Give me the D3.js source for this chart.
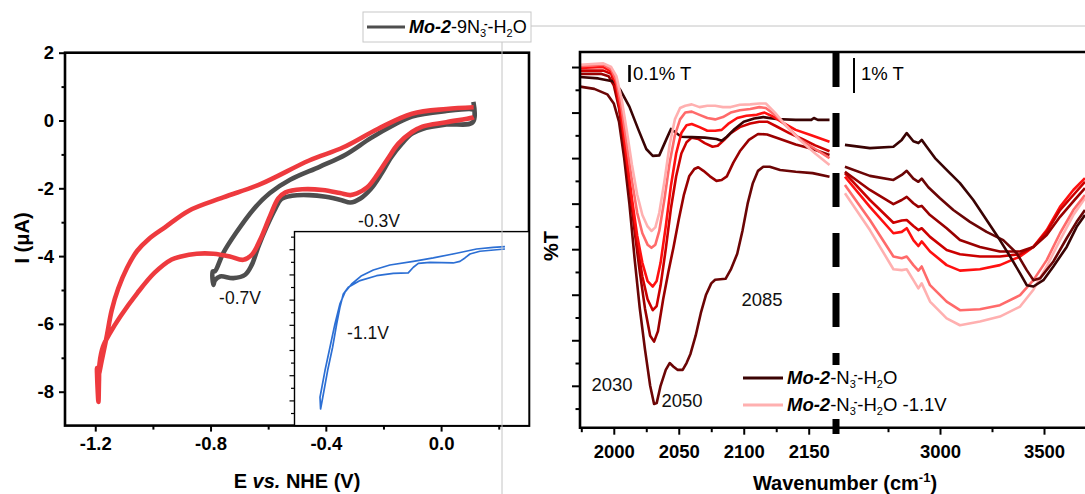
<!DOCTYPE html>
<html><head><meta charset="utf-8">
<script src="https://cdn.jsdelivr.net/npm/d3@7"></script>
<style>body{margin:0;background:#fff}svg{display:block}text{font-family:"Liberation Sans",Arial,sans-serif}</style>
</head><body><svg id="c" width="1085" height="494"></svg>
<script>
// ---------- DATA ----------
// Cyclic voltammograms: [E (V vs NHE), I (uA)]
const cvGrey = [[0.112,0.55],[0.110,-0.05],[0.018,-0.12],[-0.065,-0.25],[-0.101,-0.39],[-0.137,-0.69],[-0.173,-1.08],[-0.208,-1.58],[-0.244,-2.02],[-0.280,-2.30],[-0.315,-2.42],[-0.345,-2.35],[-0.400,-2.25],[-0.458,-2.20],[-0.518,-2.22],[-0.555,-2.32],[-0.575,-2.60],[-0.605,-3.13],[-0.634,-3.72],[-0.657,-4.26],[-0.680,-4.55],[-0.721,-4.65],[-0.767,-4.60],[-0.785,-4.72],[-0.790,-4.85],[-0.792,-4.45],[-0.785,-4.45],[-0.756,-3.91],[-0.712,-3.32],[-0.652,-2.63],[-0.594,-2.14],[-0.524,-1.75],[-0.420,-1.36],[-0.330,-1.00],[-0.244,-0.52],[-0.161,-0.12],[-0.101,0.12],[0.018,0.28],[0.107,0.33],[0.112,0.30]];
const cvRed = [[0.113,0.10],[0.107,0.08],[0.018,-0.05],[-0.065,-0.18],[-0.101,-0.34],[-0.149,-0.69],[-0.185,-1.13],[-0.220,-1.58],[-0.256,-1.97],[-0.292,-2.15],[-0.315,-2.20],[-0.351,-2.14],[-0.411,-2.05],[-0.482,-2.03],[-0.540,-2.12],[-0.565,-2.30],[-0.594,-2.83],[-0.628,-3.52],[-0.657,-3.96],[-0.686,-4.11],[-0.733,-4.01],[-0.790,-3.93],[-0.848,-3.93],[-0.906,-4.02],[-0.935,-4.10],[-0.994,-4.49],[-1.054,-5.09],[-1.113,-5.78],[-1.149,-6.27],[-1.173,-6.67],[-1.185,-7.16],[-1.187,-7.65],[-1.189,-8.30],[-1.194,-7.30],[-1.190,-7.55],[-1.178,-7.10],[-1.161,-6.40],[-1.143,-5.60],[-1.120,-4.95],[-1.090,-4.35],[-1.055,-3.85],[-1.015,-3.50],[-0.958,-3.15],[-0.875,-2.66],[-0.756,-2.27],[-0.625,-1.87],[-0.458,-1.18],[-0.339,-0.79],[-0.220,-0.25],[-0.101,0.20],[0.018,0.34],[0.113,0.39]];
// Inset CV (-1.1 V)
const insetBlue = [[0.136,0.02],[-0.035,-0.16],[-0.103,-0.38],[-0.137,-0.69],[-0.171,-0.96],[-0.217,-1.09],[-0.376,-1.04],[-0.455,-1.12],[-0.489,-1.43],[-0.524,-1.88],[-0.626,-1.91],[-0.740,-2.10],[-0.853,-2.49],[-0.933,-3.02],[-0.967,-3.55],[-0.990,-4.61],[-1.012,-5.93],[-1.040,-7.78],[-1.074,-9.63],[-1.103,-11.49],[-1.122,-12.68],[-1.126,-11.75],[-1.092,-9.63],[-1.058,-7.78],[-1.024,-5.93],[-0.990,-4.34],[-0.956,-3.42],[-0.910,-2.76],[-0.842,-2.10],[-0.762,-1.65],[-0.649,-1.25],[-0.489,-0.96],[-0.353,-0.69],[-0.194,-0.32],[-0.058,0.02],[0.056,0.15],[0.136,0.21]];
const cvTicksX = [-1.2,-0.8,-0.4,0.0];
const cvMinorX = [-1.0,-0.6,-0.2,0.2];
const cvTicksY = [-8,-6,-4,-2,0,2];
const cvMinorY = [-7,-5,-3,-1,1];
const insetTicksY = [-13,-12,-11,-10,-9,-8,-7,-6,-5,-4,-3,-2,-1,0,1];

// IR spectra: [wavenumber (cm-1), %T offset units]
const irL1 = [[1974,7.78],[1988,7.75],[2000,7.68],[2005,7.5],[2012,7.13],[2019,6.62],[2025,6.2],[2030,6.05],[2035,6.06],[2041,6.45],[2044,6.64],[2048,6.55],[2052,6.47],[2060,6.46],[2070,6.45],[2079,6.42],[2083,6.38],[2087,6.47],[2093,6.64],[2100,6.8],[2108,6.87],[2115,6.9],[2125,6.86],[2140,6.84],[2152,6.84],[2154,6.88],[2157,6.84],[2166,6.84]];
const irL2 = [[1974,7.57],[1985,7.52],[1995,7.4],[2000,7.2],[2004,6.8],[2008,6.0],[2012,5.0],[2016,3.8],[2020,2.7],[2024,1.8],[2028,1.0],[2031,0.6],[2033,0.62],[2036,1.0],[2040,1.35],[2043,1.5],[2046,1.42],[2049,1.35],[2053,1.35],[2056,1.5],[2059,1.7],[2063,2.1],[2067,2.6],[2071,3.0],[2075,3.25],[2078,3.33],[2086,3.35],[2090,3.55],[2095,3.9],[2099,4.4],[2103,5.0],[2107,5.45],[2111,5.72],[2115,5.81],[2120,5.81],[2128,5.74],[2140,5.7],[2153,5.67],[2166,5.59]];
const irL3 = [[1974,7.85],[1990,7.85],[1996,7.8],[2000,7.6],[2004,7.1],[2008,6.3],[2012,5.4],[2016,4.4],[2020,3.5],[2024,2.7],[2028,2.1],[2031,1.97],[2034,2.2],[2038,2.9],[2042,3.5],[2046,4.05],[2050,4.65],[2054,5.2],[2058,5.6],[2062,5.76],[2065,5.8],[2069,5.72],[2074,5.6],[2079,5.5],[2083,5.52],[2087,5.6],[2092,5.9],[2097,6.15],[2104,6.4],[2111,6.53],[2118,6.52],[2128,6.42],[2140,6.3],[2153,6.2],[2166,6.07]];
const irL4 = [[1974,7.92],[1992,7.92],[1998,7.85],[2002,7.5],[2006,6.8],[2010,5.9],[2014,5.0],[2018,4.1],[2022,3.4],[2026,2.9],[2030,2.66],[2033,2.75],[2036,3.2],[2040,4.0],[2044,4.9],[2048,5.6],[2052,6.1],[2056,6.35],[2060,6.45],[2065,6.42],[2070,6.33],[2076,6.25],[2080,6.27],[2085,6.4],[2090,6.55],[2097,6.68],[2105,6.76],[2112,6.8],[2118,6.8],[2125,6.7],[2135,6.55],[2145,6.42],[2155,6.28],[2166,6.15]];
const irL5 = [[1974,7.98],[1992,8.0],[1998,7.9],[2002,7.6],[2006,6.9],[2010,6.0],[2014,5.1],[2018,4.3],[2022,3.7],[2026,3.3],[2030,3.18],[2033,3.3],[2036,3.7],[2040,4.5],[2044,5.4],[2048,6.1],[2052,6.55],[2056,6.72],[2060,6.75],[2066,6.68],[2072,6.6],[2078,6.6],[2083,6.62],[2088,6.75],[2095,6.88],[2102,6.93],[2110,6.95],[2116,7.0],[2122,6.92],[2130,6.78],[2140,6.62],[2152,6.5],[2166,6.36]];
const irL6 = [[1974,8.02],[1992,8.05],[1998,7.95],[2002,7.7],[2006,7.1],[2010,6.3],[2014,5.5],[2018,4.8],[2022,4.35],[2026,4.1],[2029,4.03],[2032,4.1],[2035,4.4],[2039,5.1],[2043,5.9],[2047,6.5],[2051,6.85],[2055,7.0],[2060,7.02],[2066,6.95],[2072,6.88],[2078,6.85],[2084,6.9],[2090,7.0],[2097,7.05],[2105,7.08],[2112,7.12],[2117,7.1],[2124,6.95],[2133,6.7],[2143,6.42],[2155,6.2],[2166,6.0]];
const irL7 = [[1974,8.05],[1992,8.08],[1998,8.0],[2002,7.8],[2006,7.3],[2010,6.6],[2014,5.85],[2018,5.2],[2022,4.75],[2026,4.5],[2029,4.4],[2032,4.48],[2035,4.8],[2039,5.5],[2043,6.3],[2047,6.85],[2051,7.1],[2055,7.15],[2060,7.18],[2066,7.12],[2072,7.15],[2078,7.15],[2084,7.12],[2090,7.12],[2097,7.17],[2105,7.18],[2112,7.2],[2117,7.2],[2124,7.0],[2133,6.7],[2143,6.4],[2155,6.1],[2166,5.85]];
const irR1 = [[2543,6.29],[2663,6.22],[2776,6.25],[2816,6.40],[2840,6.55],[2872,6.37],[2896,6.33],[2912,6.40],[2936,6.25],[2976,6.00],[3032,5.74],[3096,5.45],[3160,5.08],[3224,4.64],[3288,4.20],[3337,3.84],[3385,3.47],[3417,3.21],[3449,3.18],[3497,3.32],[3545,3.62],[3609,4.05],[3657,4.49],[3697,4.75]];
const irR2 = [[2543,5.81],[2663,5.61],[2776,5.52],[2816,5.63],[2840,5.72],[2872,5.55],[2896,5.48],[2912,5.55],[2944,5.36],[3000,5.12],[3064,4.86],[3144,4.60],[3224,4.38],[3304,4.20],[3369,3.91],[3417,3.54],[3449,3.32],[3481,3.36],[3545,3.73],[3609,4.24],[3657,4.60],[3697,4.86]];
const irR3 = [[2543,5.70],[2663,5.30],[2776,4.99],[2816,5.08],[2840,5.15],[2872,5.01],[2896,4.93],[2912,4.95],[2952,4.75],[3032,4.46],[3096,4.20],[3192,4.05],[3288,3.95],[3385,3.95],[3449,4.05],[3513,4.31],[3577,4.71],[3641,5.05],[3697,5.34]];
const irR4 = [[2543,5.67],[2663,5.08],[2776,4.58],[2816,4.63],[2840,4.64],[2872,4.51],[2896,4.42],[2912,4.46],[2952,4.27],[3032,3.98],[3096,3.89],[3192,3.84],[3288,3.84],[3385,3.89],[3449,4.05],[3513,4.38],[3577,4.86],[3641,5.19],[3697,5.48]];
const irR5 = [[2543,5.59],[2663,4.93],[2776,4.35],[2816,4.38],[2840,4.46],[2872,4.20],[2896,4.07],[2912,4.17],[2952,3.95],[3032,3.65],[3096,3.53],[3192,3.56],[3288,3.65],[3385,3.84],[3449,4.05],[3513,4.42],[3577,4.93],[3641,5.30],[3697,5.56]];
const irR6 = [[2543,5.41],[2663,4.64],[2776,3.84],[2816,3.80],[2840,3.84],[2872,3.65],[2896,3.53],[2912,3.62],[2952,3.21],[3032,2.85],[3096,2.66],[3192,2.68],[3288,2.77],[3385,2.99],[3449,3.32],[3513,3.76],[3577,4.35],[3641,4.86],[3697,5.19]];
const irR7 = [[2543,5.23],[2663,4.42],[2776,3.56],[2816,3.54],[2840,3.56],[2872,3.32],[2896,3.14],[2912,3.25],[2952,2.85],[3032,2.48],[3096,2.33],[3192,2.41],[3288,2.52],[3385,2.74],[3449,3.11],[3513,3.62],[3577,4.20],[3641,4.75],[3697,5.12]];
const irColors = ["#3a0303","#6b0505","#990000","#cc0000","#ff1010","#ff6a6a","#ffb0b0"];
const irTicksL = [2000,2050,2100,2150];
const irMinorL = [1975,2025,2075,2125];
const irTicksR = [3000,3500];
const irMinorR = [2750,3250];
const irTicksY = [1,2,3,4,5,6,7,8];
const irMinorY = [0.5,1.5,2.5,3.5,4.5,5.5,6.5,7.5];

// ---------- SCALES ----------
const xCV = d3.scaleLinear().domain([-1.305,0.305]).range([65,529]);
const yCV = d3.scaleLinear().domain([-9,2]).range([425.6,52.7]);
const xIn = d3.scaleLinear().domain([-1.3,0.3]).range([294.5,529]);
const yIn = d3.scaleLinear().domain([-14,1.4]).range([425.6,231.6]);
const xL = d3.scaleLinear().domain([1974,2171]).range([580,836]);
const xR = d3.scaleLinear().domain([2500,3700]).range([836,1085.6]);
const yIR = d3.scaleLinear().domain([0.08,8.33]).range([427.7,52]);

const svg = d3.select("#c");
const FONT = "'Liberation Sans', Arial, sans-serif";

function styleAxis(g){
  g.select(".domain").remove();
  g.attr("font-family", FONT).attr("font-size", 18.5).attr("font-weight","bold");
  g.selectAll(".tick line").attr("stroke","#000").attr("stroke-width",2);
  g.selectAll(".tick text").attr("fill","#000");
}

// ---------- LEFT PANEL (CV) ----------
const lineCV = d3.line().x(d=>xCV(d[0])).y(d=>yCV(d[1])).curve(d3.curveCatmullRom.alpha(0.5));
svg.append("path").datum(cvGrey).attr("d",lineCV).attr("fill","none")
  .attr("stroke","#4e4e4e").attr("stroke-width",4.6).attr("stroke-linejoin","round");
svg.append("path").datum(cvRed).attr("d",lineCV).attr("fill","none")
  .attr("stroke","#ee3a3e").attr("stroke-width",4.6).attr("stroke-linejoin","round");

// axes
const fmt1 = d => d.toFixed(1).replace("-0.0","0.0");
svg.append("g").attr("transform",`translate(0,${yCV.range()[0]})`)
  .call(d3.axisBottom(xCV).tickValues(cvTicksX).tickFormat(fmt1).tickSize(6).tickPadding(5)).call(styleAxis);
svg.append("g").attr("transform",`translate(0,${yCV.range()[0]})`)
  .call(d3.axisBottom(xCV).tickValues(cvMinorX).tickFormat("").tickSize(4)).call(styleAxis);
svg.append("g").attr("transform",`translate(${xCV.range()[0]},0)`)
  .call(d3.axisLeft(yCV).tickValues(cvTicksY).tickFormat(d=>String(d)).tickSize(6).tickPadding(5)).call(styleAxis);
svg.append("g").attr("transform",`translate(${xCV.range()[0]},0)`)
  .call(d3.axisLeft(yCV).tickValues(cvMinorY).tickFormat("").tickSize(3.5)).call(styleAxis);

// frame
svg.append("rect").attr("x",xCV.range()[0]).attr("y",yCV.range()[1])
  .attr("width",xCV.range()[1]-xCV.range()[0]).attr("height",yCV.range()[0]-yCV.range()[1])
  .attr("fill","none").attr("stroke","#000").attr("stroke-width",2.6);

// inset
svg.append("rect").attr("x",xIn.range()[0]).attr("y",yIn.range()[1])
  .attr("width",xIn.range()[1]-xIn.range()[0]).attr("height",yIn.range()[0]-yIn.range()[1])
  .attr("fill","#fff").attr("stroke","#000").attr("stroke-width",1.4);
const gIn = svg.append("g").attr("transform",`translate(${xIn.range()[0]},0)`)
  .call(d3.axisLeft(yIn).tickValues(insetTicksY).tickFormat("").tickSize(4));
gIn.select(".domain").remove();
gIn.selectAll(".tick line").attr("stroke","#000").attr("stroke-width",1.2)
  .attr("x2",(d)=> (d%2===0)?-5:-3.5);
const lineIn = d3.line().x(d=>xIn(d[0])).y(d=>yIn(d[1]));
svg.append("path").datum(insetBlue).attr("d",lineIn).attr("fill","none")
  .attr("stroke","#2c6fd4").attr("stroke-width",1.7).attr("stroke-linejoin","round");

// annotations
function note(x,y,t,fs){
  svg.append("text").attr("x",x).attr("y",y).attr("text-anchor","middle").attr("dy","0.35em")
    .attr("font-size",fs||17.5).attr("fill","#111").text(t);
}
note(379,221,"-0.3V");
note(240,298,"-0.7V");
note(368,333,"-1.1V");

// axis titles
svg.append("text").attr("transform","translate(22,238) rotate(-90)").attr("text-anchor","middle")
  .attr("dy","0.35em").attr("font-size",20).attr("font-weight","bold").text("I (μA)");
const xt = svg.append("text").attr("x",297).attr("y",488).attr("text-anchor","middle")
  .attr("font-size",20).attr("font-weight","bold");
xt.append("tspan").text("E ");
xt.append("tspan").attr("font-style","italic").text("vs.");
xt.append("tspan").text(" NHE (V)");

// ---------- RIGHT PANEL (IR) ----------
const lineL = d3.line().x(d=>xL(d[0])).y(d=>yIR(d[1]));
const lineR = d3.line().x(d=>xR(d[0])).y(d=>yIR(d[1]));
[irL2,irL3,irL4,irL1,irL5,irL6,irL7].forEach((s,i)=>{
  const ci = [1,2,3,0,4,5,6][i];
  svg.append("path").datum(s).attr("d",lineL).attr("fill","none")
    .attr("stroke",irColors[ci]).attr("stroke-width",2.6).attr("stroke-linejoin","round");
});
[irR7,irR6,irR5,irR4,irR3,irR2,irR1].forEach((s,i)=>{
  const ci = 6-i;
  svg.append("path").datum(s).attr("d",lineR).attr("fill","none")
    .attr("stroke",irColors[ci]).attr("stroke-width",2.6).attr("stroke-linejoin","round");
});

// IR axes
const yB = yIR.range()[0];
svg.append("g").attr("transform",`translate(0,${yB})`)
  .call(d3.axisBottom(xL).tickValues(irTicksL).tickFormat(d=>String(d)).tickSize(7).tickPadding(10)).call(styleAxis);
svg.append("g").attr("transform",`translate(0,${yB})`)
  .call(d3.axisBottom(xL).tickValues(irMinorL).tickFormat("").tickSize(4.5)).call(styleAxis);
svg.append("g").attr("transform",`translate(0,${yB})`)
  .call(d3.axisBottom(xR).tickValues(irTicksR).tickFormat(d=>String(d)).tickSize(7).tickPadding(10)).call(styleAxis);
svg.append("g").attr("transform",`translate(0,${yB})`)
  .call(d3.axisBottom(xR).tickValues(irMinorR).tickFormat("").tickSize(4.5)).call(styleAxis);
svg.append("g").attr("transform",`translate(${xL.range()[0]},0)`)
  .call(d3.axisLeft(yIR).tickValues(irTicksY).tickFormat("").tickSize(8)).call(styleAxis);
svg.append("g").attr("transform",`translate(${xL.range()[0]},0)`)
  .call(d3.axisLeft(yIR).tickValues(irMinorY).tickFormat("").tickSize(4.5)).call(styleAxis);

// IR frame lines (left, bottom, top)
const fx0 = xL.range()[0], fx1 = xR.range()[1];
svg.append("path").attr("d",`M${fx1},${yIR.range()[1]}H${fx0}V${yB}H${fx1}`)
  .attr("fill","none").attr("stroke","#000").attr("stroke-width",2.6);
// axis break (thick dashed)
const xb = xL.range()[1];
svg.append("line").attr("x1",xb).attr("x2",xb).attr("y1",53).attr("y2",434)
  .attr("stroke","#000").attr("stroke-width",7).attr("stroke-dasharray","34 26");

// scale bars
svg.append("line").attr("x1",629.5).attr("x2",629.5).attr("y1",65).attr("y2",82).attr("stroke","#000").attr("stroke-width",2.6);
svg.append("text").attr("x",633).attr("y",80).attr("font-size",18.5).text("0.1% T");
svg.append("line").attr("x1",854).attr("x2",854).attr("y1",58).attr("y2",93).attr("stroke","#000").attr("stroke-width",2);
svg.append("text").attr("x",861).attr("y",80).attr("font-size",18.5).text("1% T");

// peak labels
note(612,385,"2030",18.5);
note(682,401,"2050",18.5);
note(762,300,"2085",18.5);

// IR axis titles
svg.append("text").attr("transform","translate(551,246) rotate(-90)").attr("text-anchor","middle")
  .attr("dy","0.35em").attr("font-size",20).attr("font-weight","bold").text("%T");
const wt = svg.append("text").attr("x",845).attr("y",490).attr("text-anchor","middle")
  .attr("font-size",20).attr("font-weight","bold");
wt.append("tspan").text("Wavenumber (cm");
wt.append("tspan").attr("font-size",13).attr("dy",-8).text("-1");
wt.append("tspan").attr("dy",8).text(")");

// chem label helper
function chem(x,y,fs,nine,suffix){
  const t = svg.append("text").attr("x",x).attr("y",y).attr("font-size",fs).attr("fill","#000");
  t.append("tspan").attr("font-weight","bold").attr("font-style","italic").text("Mo-2");
  t.append("tspan").text(nine?"-9N":"-N");
  const ss = Math.round(fs*0.62);
  t.append("tspan").attr("font-size",ss).attr("dy",fs*0.22).text("3");
  t.append("tspan").attr("font-size",ss).attr("font-weight","bold").attr("dx",-ss*0.2).attr("dy",-fs*0.55).text("-");
  t.append("tspan").attr("dy",fs*0.33).text("-H");
  t.append("tspan").attr("font-size",ss).attr("dy",fs*0.22).text("2");
  t.append("tspan").attr("dy",-fs*0.22).text("O"+(suffix||""));
}

// IR legend (white background covers the break line)
svg.append("rect").attr("x",740).attr("y",365).attr("width",205).attr("height",54).attr("fill","#fff");
svg.append("line").attr("x1",743).attr("x2",783).attr("y1",378).attr("y2",378).attr("stroke",irColors[0]).attr("stroke-width",3);
chem(787,384,18.5,false,"");
svg.append("line").attr("x1",743).attr("x2",783).attr("y1",405).attr("y2",405).attr("stroke",irColors[6]).attr("stroke-width",3);
chem(787,411,18.5,false," -1.1V");

// ---------- TOP LEGEND (CV) ----------
svg.append("line").attr("x1",531).attr("x2",1085).attr("y1",26).attr("y2",26).attr("stroke","#c4c4c4").attr("stroke-width",1);
svg.append("line").attr("x1",502).attr("x2",502).attr("y1",42).attr("y2",494).attr("stroke","#c4c4c4").attr("stroke-width",1);
svg.append("rect").attr("x",363).attr("y",12).attr("width",168).attr("height",30)
  .attr("fill","#fff").attr("stroke","#c8c8c8").attr("stroke-width",1);
svg.append("line").attr("x1",367).attr("x2",405).attr("y1",27).attr("y2",27).attr("stroke","#4e4e4e").attr("stroke-width",3);
chem(409,33,18,true,"");
</script></body></html>
